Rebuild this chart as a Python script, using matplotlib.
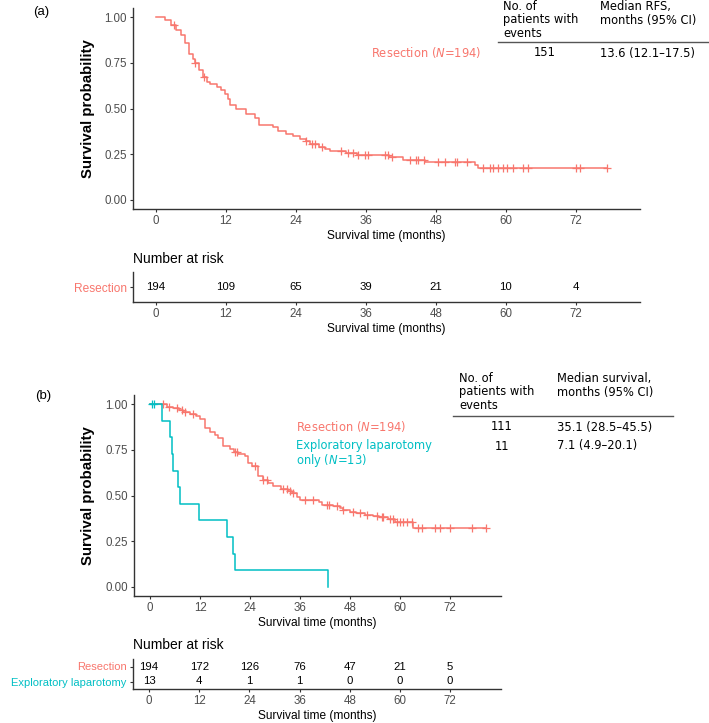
import matplotlib
matplotlib.use("Agg")
import matplotlib.pyplot as plt
from matplotlib.lines import Line2D
import numpy as np

# DATA
# (a) recurrence-free survival after resection, step function + censor times
rfs_t = [0, 1.5, 2.5, 3.5, 4.3, 5.0, 5.7, 6.3, 6.7, 7.4, 8.1, 8.7, 9.3, 10.4, 11.2, 11.8,
         12.3, 12.7, 13.8, 15.5, 17.0, 17.7, 20.1, 21.0, 22.3, 23.5, 24.7, 25.7, 26.4, 28.0,
         28.9, 29.9, 32.5, 34.5, 39.9, 42.3, 46.2, 54.7, 55.2]
rfs_s = [1.0, 0.985, 0.955, 0.93, 0.90, 0.86, 0.80, 0.77, 0.75, 0.71, 0.67, 0.645, 0.635, 0.62,
         0.60, 0.58, 0.55, 0.52, 0.495, 0.47, 0.45, 0.407, 0.40, 0.375, 0.36, 0.35, 0.333, 0.324,
         0.306, 0.29, 0.28, 0.27, 0.258, 0.246, 0.233, 0.216, 0.205, 0.19, 0.174]
rfs_cens = [3.0, 6.7, 8.2, 25.7, 26.7, 27.2, 28.4, 31.7, 33.0, 33.8, 34.7, 35.9, 36.3, 39.3, 39.8,
            40.5, 43.5, 44.5, 45.0, 46.0, 48.3, 49.5, 51.3, 51.6, 53.3, 56.1, 57.2, 57.8, 58.6,
            59.5, 60.2, 61.3, 62.9, 63.8, 72.1, 72.7, 77.3]

# (b) overall survival, resection
os_t = [0, 4.0, 5.5, 7.0, 8.0, 9.5, 11.0, 12.0, 13.2, 14.4, 15.5, 16.4, 17.6, 19.2, 20.2, 21.0,
        22.8, 23.6, 24.5, 26.0, 27.0, 28.2, 29.6, 31.5, 33.0, 34.0, 35.2, 36.0, 40.5, 41.2, 44.0,
        45.5, 46.4, 48.0, 49.5, 51.5, 53.5, 55.0, 57.2, 58.8, 63.2]
os_s = [1.0, 0.987, 0.977, 0.969, 0.958, 0.948, 0.936, 0.918, 0.872, 0.845, 0.83, 0.817, 0.771,
        0.756, 0.74, 0.725, 0.716, 0.68, 0.66, 0.606, 0.585, 0.57, 0.551, 0.538, 0.525, 0.512,
        0.49, 0.478, 0.465, 0.45, 0.44, 0.432, 0.423, 0.41, 0.402, 0.395, 0.388, 0.38, 0.37,
        0.353, 0.322]
os_cens = [3.0, 4.5, 6.4, 7.6, 8.4, 10.4, 20.4, 20.8, 25.2, 27.2, 28.0, 32.0, 32.8, 33.6, 34.4,
           37.2, 39.2, 42.4, 43.0, 44.8, 46.4, 48.8, 50.4, 52.0, 54.4, 55.6, 56.0, 57.6, 58.4,
           59.2, 60.0, 60.8, 61.6, 62.8, 64.4, 65.2, 68.4, 69.6, 72.0, 77.2, 80.5]

# (b) overall survival, exploratory laparotomy only
ex_t = [0, 2.8, 4.8, 5.2, 5.6, 6.8, 7.1, 11.8, 18.4, 20.0, 20.4, 42.6]
ex_s = [1.0, 0.909, 0.818, 0.727, 0.636, 0.545, 0.455, 0.364, 0.273, 0.182, 0.091, 0.0]
ex_cens = [0.4, 1.0]

risk_times = [0, 12, 24, 36, 48, 60, 72]
risk_a = [194, 109, 65, 39, 21, 10, 4]
risk_b_res = [194, 172, 126, 76, 47, 21, 5]
risk_b_ex = [13, 4, 1, 1, 0, 0, 0]

RED = "#F8766D"
CYAN = "#00BFC4"
AXC = "#333333"
TXT = "#4D4D4D"
W, H = 709, 723
plt.rcParams['font.family'] = ['Liberation Sans', 'DejaVu Sans']


def fx(px):
    return px / W


def fy(py):
    return 1 - py / H


def box(l, r, t, b):
    return [fx(l), fy(b), (r - l) / W, (b - t) / H]


def style_axes(ax):
    for s in ["top", "right"]:
        ax.spines[s].set_visible(False)
    for s in ["left", "bottom"]:
        ax.spines[s].set_color(AXC)
        ax.spines[s].set_linewidth(1.0)
    ax.tick_params(direction="out", length=2.5, width=0.8, color=AXC, labelsize=8.3,
                   labelcolor=TXT, pad=2)


def km(ax, t, s, cens, color):
    end = max(max(t), max(cens) if cens else 0)
    tt = list(t) + [end]
    ss = list(s) + [s[-1]]
    ax.step(tt, ss, where="post", color=color, lw=1.1)
    # censor marks sit on the curve
    idx = np.searchsorted(t, cens, side="right") - 1
    ax.plot(cens, np.array(s)[idx], "+", color=color, ms=6, mew=0.9, ls="none")


def survival_axes(fig, rect, xlim):
    ax = fig.add_axes(rect)
    style_axes(ax)
    ax.set_xlim(*xlim)
    ax.set_ylim(-0.05, 1.05)
    ax.set_xticks(risk_times)
    ax.set_yticks([0, 0.25, 0.5, 0.75, 1.0])
    ax.set_yticklabels(["0.00", "0.25", "0.50", "0.75", "1.00"])
    ax.set_xlabel("Survival time (months)", fontsize=8.6, color="black", labelpad=2)
    return ax


def risk_axes(fig, rect, xlim, rows, labels, colors, lsize):
    ax = fig.add_axes(rect)
    style_axes(ax)
    ax.set_xlim(*xlim)
    n = len(rows)
    ax.set_ylim(-0.5, n - 0.5)
    ax.set_xticks(risk_times)
    ax.set_yticks(range(n))
    ax.set_yticklabels(labels[::-1], fontsize=lsize)
    for lab, c in zip(ax.get_yticklabels(), colors[::-1]):
        lab.set_color(c)
    for i, row in enumerate(rows):
        for tm, v in zip(risk_times, row):
            ax.text(tm, n - 1 - i, str(v), ha="center", va="center", fontsize=8.2, color="black")
    ax.set_xlabel("Survival time (months)", fontsize=8.6, color="black", labelpad=2)
    return ax


fig = plt.figure(figsize=(W / 100, H / 100), dpi=100)

# PANEL (a)
xa = (-3.95, 83)
ax1 = survival_axes(fig, box(133, 640, 8, 209), xa)
km(ax1, rfs_t, rfs_s, rfs_cens, RED)
fig.text(fx(88), fy(109), "Survival probability", rotation=90, ha="center", va="center",
         fontsize=10.8, fontweight="bold")
fig.text(fx(33), fy(12), "(a)", ha="left", va="center", fontsize=9.5)

axr1 = risk_axes(fig, box(133, 640, 272, 302), xa, [risk_a], ["Resection"], [RED], 8.6)
fig.text(fx(133), fy(259), "Number at risk", ha="left", va="center", fontsize=10)

# legend table (a)
tf = dict(family="DejaVu Sans", fontsize=8.3)
LS = 1.02
fig.text(fx(503), fy(20), "No. of\npatients with\nevents", ha="left", va="center",
         linespacing=LS, **tf)
fig.text(fx(600), fy(13.5), "Median RFS,\nmonths (95% CI)", ha="left", va="center",
         linespacing=LS, **tf)
fig.add_artist(Line2D([fx(498), fx(709)], [fy(42), fy(42)], color="#555555", lw=1.0,
                      transform=fig.transFigure))
fig.text(fx(481), fy(53), r"Resection ($\mathit{N}$=194)", ha="right", va="center",
         color=RED, **tf)
fig.text(fx(545), fy(53), "151", ha="center", va="center", **tf)
fig.text(fx(600), fy(53), "13.6 (12.1\u201317.5)", ha="left", va="center", **tf)

# PANEL (b)
xb = (-3.85, 84.2)
ax2 = survival_axes(fig, box(134, 501, 395, 596), xb)
km(ax2, os_t, os_s, os_cens, RED)
km(ax2, ex_t, ex_s, ex_cens, CYAN)
fig.text(fx(88), fy(496), "Survival probability", rotation=90, ha="center", va="center",
         fontsize=10.8, fontweight="bold")
fig.text(fx(35), fy(396), "(b)", ha="left", va="center", fontsize=9.5)
fig.text(fx(296), fy(426), r"Resection ($\mathit{N}$=194)", ha="left", va="center",
         color=RED, **tf)
fig.text(fx(296), fy(454), "Exploratory laparotomy\nonly ($\\mathit{N}$=13)", ha="left",
         va="center", color=CYAN, linespacing=LS, **tf)

axr2 = risk_axes(fig, box(133, 501, 659, 689), xb, [risk_b_res, risk_b_ex],
                 ["Resection", "Exploratory laparotomy"], [RED, CYAN], 8)
fig.text(fx(133), fy(645), "Number at risk", ha="left", va="center", fontsize=10)

# legend table (b)
fig.text(fx(459), fy(392), "No. of\npatients with\nevents", ha="left", va="center",
         linespacing=LS, **tf)
fig.text(fx(557), fy(385.5), "Median survival,\nmonths (95% CI)", ha="left", va="center",
         linespacing=LS, **tf)
fig.add_artist(Line2D([fx(453), fx(673)], [fy(416), fy(416)], color="#555555", lw=1.0,
                      transform=fig.transFigure))
fig.text(fx(502), fy(427), "111", ha="center", va="center", **tf)
fig.text(fx(557), fy(427), "35.1 (28.5\u201345.5)", ha="left", va="center", **tf)
fig.text(fx(502), fy(446), "11", ha="center", va="center", **tf)
fig.text(fx(557), fy(446), "7.1 (4.9\u201320.1)", ha="left", va="center", **tf)

fig.savefig("out.png", dpi=100)
